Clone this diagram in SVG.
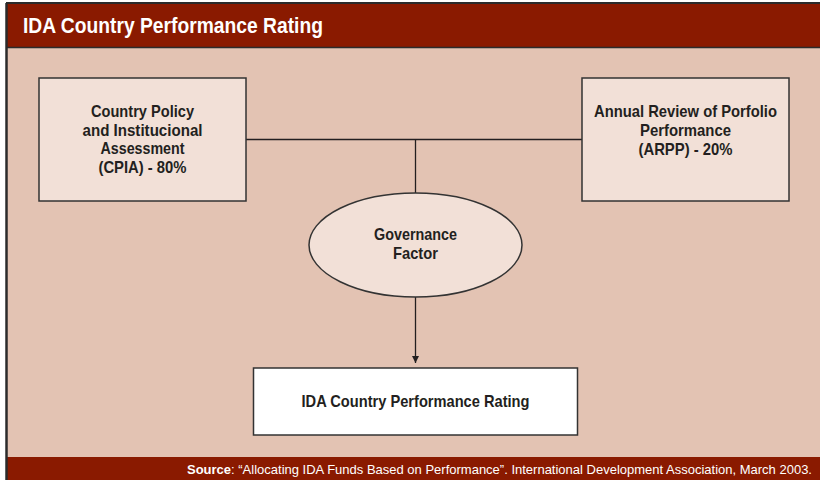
<svg xmlns="http://www.w3.org/2000/svg" width="820" height="480" viewBox="0 0 820 480">
<defs>
<style>
.t{font-family:"Liberation Sans Narrow","Liberation Sans",Arial,sans-serif;font-weight:bold;fill:#231f20;text-anchor:middle;font-size:17px}
.box{fill:#f2e0d7;stroke:#333;stroke-width:1.5}
.ln{stroke:#231f20;stroke-width:1.3;fill:none}
</style>
<marker id="ah" viewBox="0 0 10 10" refX="10" refY="5" markerWidth="7" markerHeight="9" markerUnits="userSpaceOnUse" orient="auto">
<path d="M0,0 L10,5 L0,10 z" fill="#231f20"/>
</marker>
</defs>
<rect x="0" y="0" width="820" height="480" fill="#ffffff"/>
<rect x="6" y="3" width="814" height="477" fill="#e3c3b3"/>
<rect x="6" y="3" width="814" height="44" fill="#8a1a00"/>
<line x1="6" y1="47.5" x2="820" y2="47.5" stroke="#2b2b2b" stroke-width="1.5"/>
<rect x="6" y="457" width="814" height="23" fill="#8a1a00"/>
<line x1="6" y1="3" x2="820" y2="3" stroke="#2b2b2b" stroke-width="2"/>
<line x1="6.5" y1="3" x2="6.5" y2="480" stroke="#2b2b2b" stroke-width="2.5"/>
<text x="23" y="33" font-family="'Liberation Sans Narrow','Liberation Sans',Arial,sans-serif" font-weight="bold" font-size="22" fill="#ffffff" textLength="300" lengthAdjust="spacingAndGlyphs">IDA Country Performance Rating</text>
<g id="connectors">
<path class="ln" d="M246,139.5 H582"/>
<path class="ln" d="M415.5,139.5 V193"/>
<path class="ln" d="M415.5,297 V363" marker-end="url(#ah)"/>
</g>
<g id="cpia">
<rect class="box" x="39" y="78" width="207" height="123"/>
<text class="t" x="142.5" y="117" textLength="103" lengthAdjust="spacingAndGlyphs">Country Policy</text>
<text class="t" x="142.5" y="135.5" textLength="120" lengthAdjust="spacingAndGlyphs">and Institucional</text>
<text class="t" x="142.5" y="154" textLength="84" lengthAdjust="spacingAndGlyphs">Assessment</text>
<text class="t" x="142.5" y="172.5" textLength="88" lengthAdjust="spacingAndGlyphs">(CPIA) - 80%</text>
</g>
<g id="arpp">
<rect class="box" x="582" y="78" width="207" height="123"/>
<text class="t" x="685.5" y="117" textLength="183" lengthAdjust="spacingAndGlyphs">Annual Review of Porfolio</text>
<text class="t" x="685.5" y="135.5" textLength="91" lengthAdjust="spacingAndGlyphs">Performance</text>
<text class="t" x="685.5" y="154.5" textLength="94" lengthAdjust="spacingAndGlyphs">(ARPP) - 20%</text>
</g>
<g id="governance">
<ellipse class="box" cx="415.5" cy="245" rx="106.5" ry="52"/>
<text class="t" x="415.5" y="240" textLength="83" lengthAdjust="spacingAndGlyphs">Governance</text>
<text class="t" x="415.5" y="259" textLength="45" lengthAdjust="spacingAndGlyphs">Factor</text>
</g>
<g id="rating">
<rect x="253.5" y="368" width="324" height="67" fill="#ffffff" stroke="#333" stroke-width="1.5"/>
<text class="t" x="415.5" y="407" textLength="228" lengthAdjust="spacingAndGlyphs">IDA Country Performance Rating</text>
</g>
<text x="812" y="474" font-family="'Liberation Sans Narrow','Liberation Sans',Arial,sans-serif" font-size="13" fill="#ffffff" text-anchor="end" textLength="625" lengthAdjust="spacingAndGlyphs"><tspan font-weight="bold">Source</tspan>: “Allocating IDA Funds Based on Performance”. International Development Association, March 2003.</text>
</svg>
